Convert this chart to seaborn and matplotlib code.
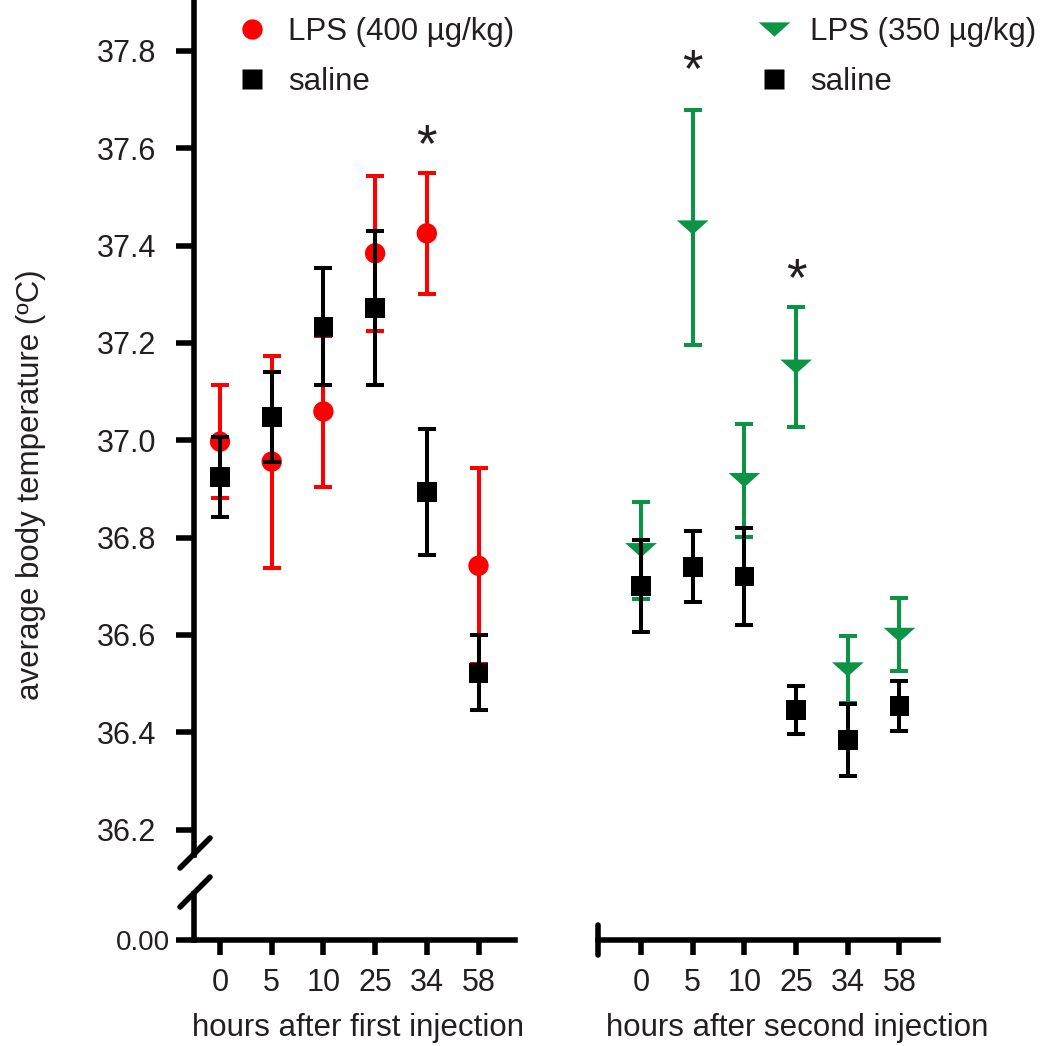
import numpy as np
import matplotlib
matplotlib.use("Agg")
import matplotlib.pyplot as plt
import seaborn as sns
from matplotlib.lines import Line2D

# ---------------- data ----------------
hours = ["0", "5", "10", "25", "34", "58"]

lps1_mean = [36.997, 36.956, 37.059, 37.384, 37.425, 36.742]
lps1_sem = [0.116, 0.218, 0.156, 0.159, 0.124, 0.201]
sal1_mean = [36.925, 37.048, 37.233, 37.272, 36.894, 36.522]
sal1_sem = [0.082, 0.092, 0.120, 0.158, 0.130, 0.077]

lps2_mean = [36.774, 37.437, 36.918, 37.151, 36.529, 36.600]
lps2_sem = [0.100, 0.242, 0.116, 0.123, 0.069, 0.075]
sal2_mean = [36.700, 36.740, 36.720, 36.446, 36.384, 36.454]
sal2_sem = [0.095, 0.073, 0.099, 0.049, 0.074, 0.052]

star1_idx = [4]
star1_y = [37.624]
star2_idx = [1, 3]
star2_y = [37.778, 37.350]

yticks = [36.2, 36.4, 36.6, 36.8, 37.0, 37.2, 37.4, 37.6, 37.8]

# ---------------- style ----------------
sns.set_style("ticks")
plt.rcParams["font.family"] = ["Liberation Sans", "DejaVu Sans"]
plt.rcParams["axes.edgecolor"] = "black"
TXT = "#231f20"
RED = "#ff0000"
GREEN = "#0b9444"
LW = 4.0
FS = 22

W, H = 1047, 1046
fig = plt.figure(figsize=(W / 100, H / 100), dpi=100)


def rect(l, t, r, b):
    return [l / W, 1 - b / H, (r - l) / W, (b - t) / H]


def yval(py):
    return 37.0 + (440.2 - py) / 486.7


ax_top = fig.add_axes(rect(194, 0, 515, 855))
ax_bot = fig.add_axes(rect(194, 894, 515, 940))
ax_r = fig.add_axes(rect(598, 0, 938, 940))

tri = [(-1.0, 0.45), (1.0, 0.45), (0.0, -0.45)]

S_CIRC, S_SQ, S_TRI = 215, 200, 520


def draw(ax, mean, sem, color, marker, s, z):
    x = np.arange(len(hours))
    ax.errorbar(x, mean, yerr=sem, fmt="none", ecolor=color, elinewidth=2.9,
                capsize=6.8, capthick=2.9, zorder=z)
    sns.scatterplot(x=x, y=mean, ax=ax, marker=marker, s=s, color=color,
                    edgecolor="none", linewidth=0, zorder=z + 0.5, legend=False)


draw(ax_top, lps1_mean, lps1_sem, RED, "o", S_CIRC, 2)
draw(ax_top, sal1_mean, sal1_sem, "black", "s", S_SQ, 4)
draw(ax_r, lps2_mean, lps2_sem, GREEN, tri, S_TRI, 2)
draw(ax_r, sal2_mean, sal2_sem, "black", "s", S_SQ, 4)

STAR_FS = 38
for ax, idx, ys in [(ax_top, star1_idx, star1_y), (ax_r, star2_idx, star2_y)]:
    for i, y in zip(idx, ys):
        ax.annotate("*", xy=(i, y), xytext=(0, -0.47 * STAR_FS), textcoords="offset points",
                    ha="center", va="baseline", fontsize=STAR_FS, color=TXT)

# ---------------- axes ----------------
xl_left = (-0.503, 5.706)
xl_right = (-0.832, 5.745)

ax_top.set_xlim(*xl_left)
ax_top.set_ylim(yval(855), yval(0))
ax_top.set_yticks(yticks)
ax_top.set_yticklabels([f"{v:.1f}" for v in yticks])
ax_top.set_xticks([])
for sp in ["top", "right", "bottom"]:
    ax_top.spines[sp].set_visible(False)
ax_top.spines["left"].set_linewidth(LW)
ax_top.tick_params(axis="y", direction="out", length=13, width=LW, pad=14,
                   labelsize=FS, labelcolor=TXT, color="black")

ax_bot.set_xlim(*xl_left)
ax_bot.set_ylim(0, 0.1)
ax_bot.set_yticks([0])
ax_bot.set_yticklabels(["0.00"])
ax_bot.set_xticks(np.arange(len(hours)))
ax_bot.set_xticklabels(hours)
for sp in ["top", "right"]:
    ax_bot.spines[sp].set_visible(False)
for sp in ["left", "bottom"]:
    ax_bot.spines[sp].set_linewidth(LW)
ax_bot.tick_params(axis="y", direction="out", length=13, width=LW, pad=4,
                   labelsize=20, labelcolor=TXT, color="black")
ax_bot.tick_params(axis="x", direction="out", length=11, width=LW, pad=9,
                   labelsize=FS, labelcolor=TXT, color="black")

ax_r.set_xlim(*xl_right)
ax_r.set_ylim(yval(940), yval(0))
ax_r.set_yticks([])
ax_r.set_xticks(np.arange(len(hours)))
ax_r.set_xticklabels(hours)
for sp in ["top", "right", "left"]:
    ax_r.spines[sp].set_visible(False)
ax_r.spines["bottom"].set_linewidth(LW)
ax_r.tick_params(axis="x", direction="out", length=11, width=LW, pad=9,
                 labelsize=FS, labelcolor=TXT, color="black")
ax_r.add_line(Line2D([0, 0], [-15 / 940, 15 / 940], transform=ax_r.transAxes,
                     color="black", lw=LW, clip_on=False, solid_capstyle="round"))

for ax in (ax_top, ax_bot, ax_r):
    ax.set_facecolor("none")

# axis break marks
for (x0, y0, x1, y1) in [(180, 868, 210, 838), (180, 907, 210, 877)]:
    fig.add_artist(Line2D([x0 / W, x1 / W], [1 - y0 / H, 1 - y1 / H],
                          transform=fig.transFigure, color="black", lw=LW))

# labels
fig.text(31 / W, 1 - 485 / H, "average body temperature (ºC)", rotation=90,
         ha="center", va="center", fontsize=22.5, color=TXT)
fig.text(358 / W, 1 - 1028 / H, "hours after first injection", ha="center",
         va="center", fontsize=22.5, color=TXT)
fig.text(797 / W, 1 - 1028 / H, "hours after second injection", ha="center",
         va="center", fontsize=22.5, color=TXT)

# legends
LFS = 22.5
h1 = [Line2D([], [], ls="none", marker="o", ms=np.sqrt(S_CIRC), color=RED, mec="none"),
      Line2D([], [], ls="none", marker="s", ms=np.sqrt(S_SQ), color="black", mec="none")]
h2 = [Line2D([], [], ls="none", marker=tri, ms=np.sqrt(S_TRI), color=GREEN, mec="none"),
      Line2D([], [], ls="none", marker="s", ms=np.sqrt(S_SQ), color="black", mec="none")]
hl = 1.0 * LFS * 100 / 72
for hs, labs, mx in [(h1, ["LPS (400 µg/kg)", "saline"], 252),
                     (h2, ["LPS (350 µg/kg)", "saline"], 774)]:
    leg = fig.legend(hs, labs, loc="upper left",
                     bbox_to_anchor=((mx - hl / 2) / W, 1 - 17 / H),
                     frameon=False, fontsize=LFS, handlelength=1.0,
                     handletextpad=0.65, labelspacing=0.64, borderpad=0,
                     borderaxespad=0, labelcolor=TXT)

fig.savefig("out.png", dpi=100)
